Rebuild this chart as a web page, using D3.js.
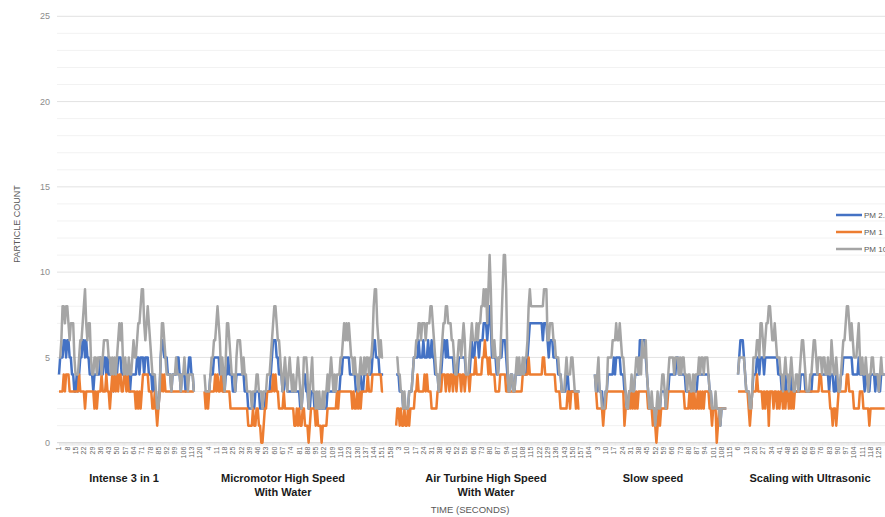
<!DOCTYPE html>
<html>
<head>
<meta charset="utf-8">
<script src="https://cdn.jsdelivr.net/npm/d3@7"></script>
<style>
  body { margin: 0; background: #fff; }
  svg { display: block; font-family: "Liberation Sans", Arial, sans-serif; }
</style>
</head>
<body>
<svg id="chart" width="885" height="517"></svg>
<script>
// segments of the time axis (seconds restart in every segment)
const segNames = [
  ["Intense 3 in 1"],
  ["Micromotor High Speed", "With Water"],
  ["Air Turbine High Speed", "With Water"],
  ["Slow speed"],
  ["Scaling with Ultrasonic"]
];
const segSeconds = [123, 162, 168, 116, 140];
const tickEvery = 7;
const yTicks = [0, 5, 10, 15, 20, 25];
const seriesNames = ["PM 2.5", "PM 1", "PM 10"];

// Intense 3 in 1
const pm25Intense = [4,5,5,5,6,6,5,6,6,5, 5,4,4,3,3,4,3,4,5,5, 6,6,5,6,5,5,4,4,4,3, 4,4,4,4,4,5,4,4,5,5,
  4,5,4,4,4,4,3,4,4,4, 5,5,5,4,4,4,4,4,4,4, 3,4,4,4,4,4,5,5,4,5, 5,5,4,5,5,5,4,4,4,3,
  4,3,3,2,2,3,5,6,6,5, 5,5,4,4,4,3,4,4,4,4, 5,5,4,3,4,4,4,3,4,4, 5,5,4,4,3];
const pm1Intense = [3,3,3,3,4,3,4,4,4,3, 3,3,3,3,3,3,3,4,3,3, 3,3,2,3,3,3,3,3,3,3, 2,3,2,3,3,3,4,3,3,3,
  4,3,3,2,3,4,3,4,3,4, 3,4,4,3,3,4,4,3,4,3, 3,3,3,3,3,2,3,2,3,2, 3,4,4,4,4,4,3,3,3,2,
  2,3,2,1,2,3,3,4,3,4, 3,3,3,3,3,3,3,3,3,3, 3,3,3,3,3,3,3,3,3,3, 3,3,3,3,3];
const pm10Intense = [5,5,6,8,8,7,8,8,7,6, 7,7,7,5,4,4,4,5,6,6, 7,8,9,7,6,7,7,5,4,4, 5,5,4,5,5,5,4,5,6,6,
  6,6,5,5,4,5,4,5,4,5, 6,7,6,7,5,4,5,4,4,5, 4,4,5,6,5,5,6,7,7,8, 9,9,7,6,7,8,7,6,5,4,
  4,4,3,2,2,3,5,7,7,6, 5,4,4,4,4,3,4,4,4,5, 4,4,4,3,4,4,5,4,4,3, 4,4,4,4,3];

// Micromotor High Speed With Water
const pm25Micro = [3,3,3,3,3,4,4,4,5,5, 5,5,5,4,4,4,3,3,4,4, 5,4,4,4,3,3,3,4,4,4, 4,4,4,4,3,3,3,2,2,2,
  2,2,2,3,3,3,3,2,2,2, 2,2,3,3,3,3,4,5,6,6, 6,5,5,4,4,4,3,3,4,4, 3,3,3,3,3,3,3,3,3,3,
  3,2,2,3,4,4,3,3,2,2, 3,3,3,2,2,2,2,2,2,2, 2,2,2,2,3,3,3,3,3,3, 3,3,3,3,3,4,4,5,5,5,
  5,5,5,4,4,4,4,4,3,3, 3,4,4,3,3,4,4,4,4,4, 4,4,5,6,6,5,5,5,4,4, 4,4];
const pm1Micro = [3,2,3,2,3,3,3,3,3,4, 3,4,3,3,4,3,3,3,3,3, 3,3,2,2,2,2,2,2,2,2, 2,2,2,2,2,2,2,1,1,1,
  1,2,1,1,2,2,1,1,0,0, 1,2,2,3,3,3,3,3,4,3, 4,3,3,2,2,2,2,3,2,2, 2,2,2,2,2,2,1,1,2,1,
  2,1,1,2,2,1,1,1,0,1, 2,2,2,2,1,2,1,1,1,0, 1,1,1,1,2,2,2,2,2,2, 2,2,3,2,3,3,3,3,3,3,
  3,3,3,3,3,2,3,2,2,3, 2,3,2,3,3,3,3,3,4,3, 3,3,4,4,4,4,4,4,4,4, 3,3];
const pm10Micro = [4,3,3,3,3,4,5,5,6,6, 7,8,7,6,4,5,4,3,5,7, 7,6,5,4,4,4,3,5,6,6, 6,5,4,5,4,4,3,3,3,3,
  2,3,3,3,4,4,3,3,3,2, 3,3,3,4,4,4,5,6,7,8, 8,7,6,6,5,4,3,4,5,4, 3,4,5,4,3,4,3,3,4,5,
  4,3,2,3,5,5,5,4,2,3, 4,5,3,3,2,3,2,3,2,2, 3,2,3,3,4,3,4,5,4,3, 4,3,4,4,4,5,5,6,7,6,
  7,6,7,6,5,5,4,5,4,4, 3,4,5,4,4,5,4,5,5,4, 5,5,6,8,9,9,7,6,5,6, 5,5];

// Air Turbine High Speed With Water
const pm25Air = [4,4,4,3,3,3,2,2,2,2, 2,3,3,3,4,5,5,5,5,6, 5,5,5,6,5,5,5,6,5,5, 6,5,5,4,4,4,3,4,4,5,
  6,6,5,6,5,5,5,5,5,4, 4,4,4,5,5,5,5,5,5,4, 4,4,4,5,6,5,5,6,6,6, 5,6,6,6,7,7,7,6,7,8,
  7,5,5,5,5,4,4,5,5,5, 6,6,6,5,4,3,3,4,4,3, 3,4,4,4,4,4,4,4,4,4, 4,5,6,7,7,7,7,7,7,7,
  7,7,7,7,6,7,7,7,6,5, 6,6,6,5,5,5,5,4,4,4, 3,3,3,3,4,4,3,3,3,3, 3,3,3,3,3,3];
const pm1Air = [1,2,2,1,2,1,1,2,1,1, 2,1,2,2,2,2,3,3,4,3, 3,3,3,3,4,3,4,3,3,3, 2,2,2,2,2,3,3,3,3,4,
  4,4,3,4,4,3,4,4,3,4, 4,3,4,4,4,3,4,4,3,4, 4,4,3,4,4,4,4,5,4,4, 4,4,4,5,5,6,5,5,4,5,
  4,4,4,4,3,3,3,3,4,4, 4,4,4,3,3,3,3,3,3,3, 3,3,3,3,3,3,3,4,4,4, 4,4,5,4,4,4,4,4,4,4,
  4,4,4,4,5,5,4,4,4,4, 4,4,4,4,4,3,3,3,3,2, 2,2,2,2,2,3,3,2,3,3, 3,3,2,3,2,2];
const pm10Air = [5,5,4,4,3,3,2,3,2,2, 2,3,3,3,4,5,5,6,6,7, 7,6,7,7,7,6,7,7,7,8, 8,7,6,5,4,4,3,4,5,6,
  7,7,8,8,7,7,7,6,6,5, 4,4,5,6,6,5,6,7,6,4, 4,4,5,6,7,6,6,6,7,6, 7,7,8,8,9,8,9,7,9,11,
  9,6,5,6,5,5,4,5,5,7, 9,11,11,9,5,3,3,4,4,3, 3,4,5,4,5,4,4,5,4,5, 5,6,8,9,8,8,8,8,8,8,
  8,8,8,8,8,9,9,9,6,6, 7,7,7,6,6,5,5,5,4,4, 3,3,3,4,5,4,4,4,5,5, 4,3,3,3,3,3];

// Slow speed
const pm25Slow = [4,3,3,4,3,3,3,2,2,3, 3,4,4,4,4,4,5,4,5,5, 5,5,4,4,4,3,3,2,2,3, 3,3,3,3,4,4,4,4,6,6,
  6,6,6,5,4,3,2,2,2,2, 2,1,2,2,2,2,3,3,3,3, 2,3,3,4,4,4,4,4,4,5, 5,4,4,4,4,4,4,3,3,3,
  3,3,3,3,3,3,3,4,4,4, 4,4,4,4,4,4,4,3,3,2, 2,2,2,2,2,2,1,2,2,2, 2,2];
const pm1Slow = [3,3,2,2,2,2,2,1,2,2, 3,3,3,3,3,3,3,3,3,3, 3,3,3,3,3,1,2,2,2,3, 2,3,2,3,2,3,2,3,3,3,
  3,3,3,3,3,2,2,2,2,1, 2,1,0,1,2,1,2,2,2,2, 2,2,3,3,3,3,3,3,3,3, 3,3,3,3,3,3,2,2,2,2,
  3,2,3,2,3,2,2,3,2,3, 2,3,2,3,3,3,3,2,2,1, 2,2,2,0,1,2,2,2,2,2, 2,2];
const pm10Slow = [4,3,4,5,3,3,2,2,2,3, 3,5,5,5,5,6,6,6,7,6, 6,7,6,5,5,4,3,2,2,3, 3,4,3,3,4,5,5,4,5,4,
  6,5,5,6,4,3,2,2,3,2, 2,1,2,3,2,2,3,4,4,3, 2,3,4,5,5,5,5,4,5,5, 5,4,5,4,5,5,4,4,3,4,
  4,3,3,4,3,4,4,4,5,4, 5,5,4,5,5,5,4,3,3,2, 2,2,3,2,2,2,1,2,2,2, 2,2];

// Scaling with Ultrasonic (first seconds not recorded)
const pm25Scaling = [null,null,null,null,null,
  4,5,6,6,6,5,4,3,3,3, 2,2,3,4,4,4,5,5,4,5, 5,5,4,5,5,5,5,5,5,5, 5,5,5,5,4,4,4,3,3,3,
  4,3,3,3,3,4,3,3,3,3, 3,3,3,4,4,4,4,3,3,3, 3,3,3,4,4,4,4,4,4,4, 4,4,4,4,4,4,4,3,4,4,
  4,3,3,4,3,3,3,4,4,5, 5,5,5,5,5,5,5,4,4,4, 4,4,5,4,4,4,4,3,4,4, 3,3,4,4,4,4,3,4,4,3,
  3,4,4,4,4];
const pm1Scaling = [null,null,null,null,null,
  3,3,3,3,3,3,3,3,3,2, 1,2,3,3,3,3,4,3,3,3, 3,2,3,2,3,3,1,3,3,3, 2,3,3,2,3,2,3,3,2,3,
  2,3,3,2,3,2,3,2,3,3, 3,3,3,3,3,3,3,3,3,3, 3,3,3,3,3,3,3,3,3,4, 4,3,3,3,3,3,3,3,2,2,
  1,2,2,1,2,3,3,3,3,3, 3,3,4,4,3,3,3,3,2,2, 2,2,2,3,3,3,2,2,2,2, 2,1,2,2,2,2,2,2,2,2,
  2,2,2,2,2];
const pm10Scaling = [null,null,null,null,null,
  4,5,5,5,5,5,4,3,3,3, 2,2,3,5,5,5,6,6,5,7, 7,6,5,6,7,7,8,8,7,6, 6,7,6,5,5,5,4,4,3,4,
  5,4,4,3,4,5,4,3,3,4, 4,3,4,5,6,6,5,4,3,3, 3,4,4,5,6,6,5,4,5,5, 5,4,5,5,4,4,5,4,4,6,
  5,4,4,5,4,3,3,4,5,6, 6,7,8,8,7,6,7,6,5,5, 5,6,7,5,4,5,4,4,5,4, 3,4,4,5,5,4,4,4,4,3,
  4,5,4,4,4];

const pm25Data = [pm25Intense, pm25Micro, pm25Air, pm25Slow, pm25Scaling];
const pm1Data = [pm1Intense, pm1Micro, pm1Air, pm1Slow, pm1Scaling];
const pm10Data = [pm10Intense, pm10Micro, pm10Air, pm10Slow, pm10Scaling];

// layout
const width = 885, height = 517;
const plotLeft = 57, plotRight = 885;
const firstX = 59, step = 1.183;
const colors = ["#4472c4", "#ed7d31", "#a5a5a5"];
const segLabelX = [124, 283, 486, 653, 810];

const svg = d3.select("#chart");

const offsets = [];
segSeconds.reduce((acc, n, i) => { offsets[i] = acc; return acc + n; }, 0);
const total = d3.sum(segSeconds);

const x = d3.scaleLinear().domain([0, total - 1]).range([firstX, firstX + (total - 1) * step]);
const y = d3.scaleLinear().domain([0, 25]).range([442.7, 16.3]);

// gridlines, one per unit
svg.append("g")
  .selectAll("line")
  .data(d3.range(1, 26))
  .join("line")
    .attr("x1", plotLeft).attr("x2", plotRight)
    .attr("y1", d => y(d)).attr("y2", d => y(d))
    .attr("stroke", d => d % 5 === 0 ? "#e2e2e2" : "#f2f2f2")
    .attr("stroke-width", 1);

// y labels
svg.append("g")
  .selectAll("text")
  .data(yTicks)
  .join("text")
    .attr("x", 50).attr("y", d => y(d))
    .attr("dy", "0.35em")
    .attr("text-anchor", "end")
    .attr("font-size", 9)
    .attr("fill", "#8c8c8c")
    .text(d => d);

// category axis (one tick per second)
const xAxis = d3.axisBottom(x)
  .tickValues(d3.range(0, total))
  .tickSize(3)
  .tickFormat("");
svg.append("g")
  .attr("transform", `translate(0,${y(0)})`)
  .call(xAxis)
  .call(g => g.select(".domain").attr("stroke", "#d4d4d4").attr("d", `M${plotLeft},0H${plotRight}`))
  .call(g => g.selectAll(".tick line").attr("stroke", "#dcdcdc").attr("stroke-width", 0.6));

// tick labels: every 7th category, showing the seconds within the segment
const tickIdx = d3.range(0, total, tickEvery);
const segOf = i => d3.bisectRight(offsets, i) - 1;
svg.append("g")
  .selectAll("text")
  .data(tickIdx.filter(i => x(i) < width))
  .join("text")
    .attr("transform", d => `translate(${x(d)},${y(0) + 4}) rotate(-90)`)
    .attr("dy", "0.35em")
    .attr("text-anchor", "end")
    .attr("font-size", 7)
    .attr("fill", "#666")
    .text(d => d - offsets[segOf(d)] + 1);

// build one full-length series per pollutant (null between segments)
function fullSeries(parts) {
  const arr = new Array(total).fill(null);
  parts.forEach((vals, g) => vals.forEach((v, j) => { arr[offsets[g] + j] = v; }));
  return arr.map((v, i) => ({ i, v }));
}
const series = [pm25Data, pm1Data, pm10Data].map(fullSeries);

const line = d3.line()
  .defined(d => d.v !== null)
  .x(d => x(d.i))
  .y(d => y(d.v));

svg.append("g")
  .selectAll("path")
  .data(series)
  .join("path")
    .attr("fill", "none")
    .attr("stroke", (d, k) => colors[k])
    .attr("stroke-width", 2.5)
    .attr("stroke-linejoin", "round")
    .attr("d", line);

// segment names
const seg = svg.append("g")
  .selectAll("text")
  .data(segNames)
  .join("text")
    .attr("x", (d, i) => segLabelX[i])
    .attr("y", 482)
    .attr("text-anchor", "middle")
    .attr("font-size", 11)
    .attr("font-weight", "bold")
    .attr("fill", "#1a1a1a");
seg.selectAll("tspan")
  .data(d => d)
  .join("tspan")
    .attr("x", function () { return d3.select(this.parentNode).attr("x"); })
    .attr("dy", (d, k) => k === 0 ? 0 : 14)
    .text(d => d);

// axis titles
svg.append("text")
  .attr("x", 470).attr("y", 513)
  .attr("text-anchor", "middle")
  .attr("font-size", 9.5)
  .attr("fill", "#595959")
  .text("TIME (SECONDS)");

svg.append("text")
  .attr("transform", "translate(17,224) rotate(-90)")
  .attr("dy", "0.35em")
  .attr("text-anchor", "middle")
  .attr("font-size", 9)
  .attr("fill", "#595959")
  .text("PARTICLE COUNT");

// legend (cut by the right edge, as in the source image)
const legend = svg.append("g")
  .selectAll("g")
  .data(seriesNames)
  .join("g")
    .attr("transform", (d, k) => `translate(836,${215 + k * 17})`);
legend.append("line")
  .attr("x1", 0).attr("x2", 26)
  .attr("stroke", (d, k) => colors[k])
  .attr("stroke-width", 2.5);
legend.append("text")
  .attr("x", 28)
  .attr("dy", "0.35em")
  .attr("font-size", 8)
  .attr("fill", "#595959")
  .text(d => d);
</script>
</body>
</html>
